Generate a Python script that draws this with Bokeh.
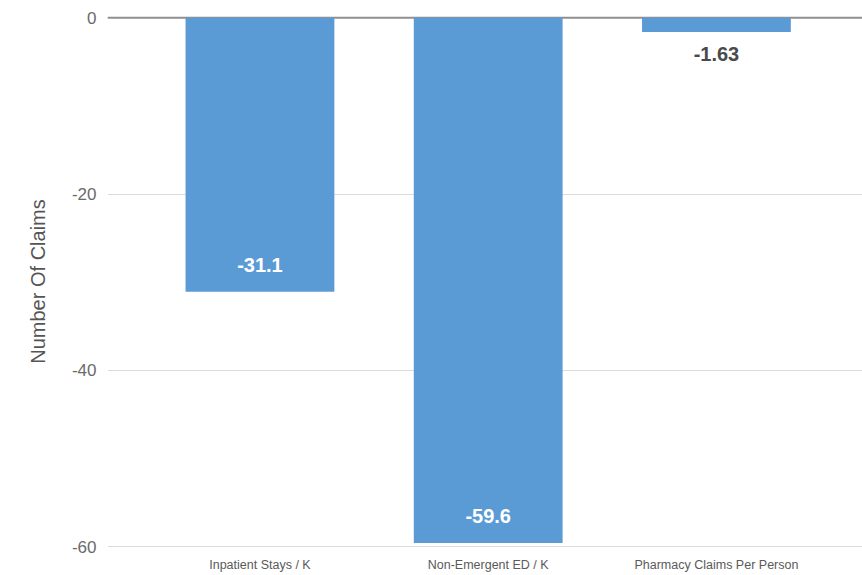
from bokeh.plotting import figure
from bokeh.models import ColumnDataSource, Range1d, FixedTicker, LabelSet, Span
from bokeh.core.properties import value
from bokeh.embed import file_html
from bokeh.resources import INLINE

categories = ["Inpatient Stays / K", "Non-Emergent ED / K", "Pharmacy Claims Per Person"]
values = [-31.1, -59.6, -1.63]
value_labels = ["-31.1", "-59.6", "-1.63"]
y_ticks = [0, -20, -40, -60]
y_tick_labels = ["0", "-20", "-40", "-60"]
y_title = "Number Of Claims"

FONT = "Liberation Sans"
BAR = "#5b9bd5"

xs = list(range(len(categories)))
inside = [v < -5 for v in values]
src = ColumnDataSource(dict(
    x=xs, top=[0] * len(values), bottom=values, lab=value_labels,
    off=[27 if i else -22 for i in inside],
    col=["#ffffff" if i else "#4a4a4a" for i in inside],
))

p = figure(width=862, height=575, output_backend="svg", toolbar_location=None,
           x_range=Range1d(-0.668, 2.640), y_range=Range1d(-60.1, 0.25),
           min_border_left=107, min_border_right=0, min_border_top=15, min_border_bottom=28)
p.outline_line_color = None
p.background_fill_color = "#ffffff"
p.border_fill_color = "#ffffff"

p.vbar(x="x", top="top", bottom="bottom", width=0.652, source=src,
       fill_color=BAR, line_color=None)

zero = Span(location=0, dimension="width", line_color="#909090", line_width=2, level="underlay")
p.add_layout(zero)

labels = LabelSet(x="x", y="bottom", text="lab", y_offset="off", source=src,
                  text_align="center", text_baseline="middle", text_color="col",
                  text_font=value(FONT), text_font_size=value("20px"),
                  text_font_style="bold")
p.add_layout(labels)

# axes
p.xaxis.ticker = FixedTicker(ticks=xs)
p.xaxis.major_label_overrides = {i: c for i, c in zip(xs, categories)}
p.xaxis.axis_line_color = None
p.xaxis.major_tick_line_color = None
p.xaxis.minor_tick_line_color = None
p.xaxis.major_tick_out = 0
p.xaxis.major_tick_in = 0
p.xaxis.major_label_standoff = 10
p.xaxis.major_label_text_font = FONT
p.xaxis.major_label_text_font_size = "12.5px"
p.xaxis.major_label_text_color = "#5a5a5a"

p.yaxis.ticker = FixedTicker(ticks=y_ticks)
p.yaxis.major_label_overrides = {t: s for t, s in zip(y_ticks, y_tick_labels)}
p.yaxis.axis_line_color = None
p.yaxis.major_tick_line_color = None
p.yaxis.minor_tick_line_color = None
p.yaxis.major_tick_out = 0
p.yaxis.major_tick_in = 0
p.yaxis.major_label_standoff = 11
p.yaxis.major_label_text_font = FONT
p.yaxis.major_label_text_font_size = "17px"
p.yaxis.major_label_text_color = "#6a6a6a"
p.yaxis.axis_label = y_title
p.yaxis.axis_label_text_font = FONT
p.yaxis.axis_label_text_font_size = "20px"
p.yaxis.axis_label_text_font_style = "normal"
p.yaxis.axis_label_text_color = "#555555"
p.yaxis.axis_label_standoff = 20

p.xgrid.grid_line_color = None
p.ygrid.grid_line_color = "#dcdcdc"
p.ygrid.grid_line_width = 1

open("out.html", "w").write(file_html(p, INLINE))
